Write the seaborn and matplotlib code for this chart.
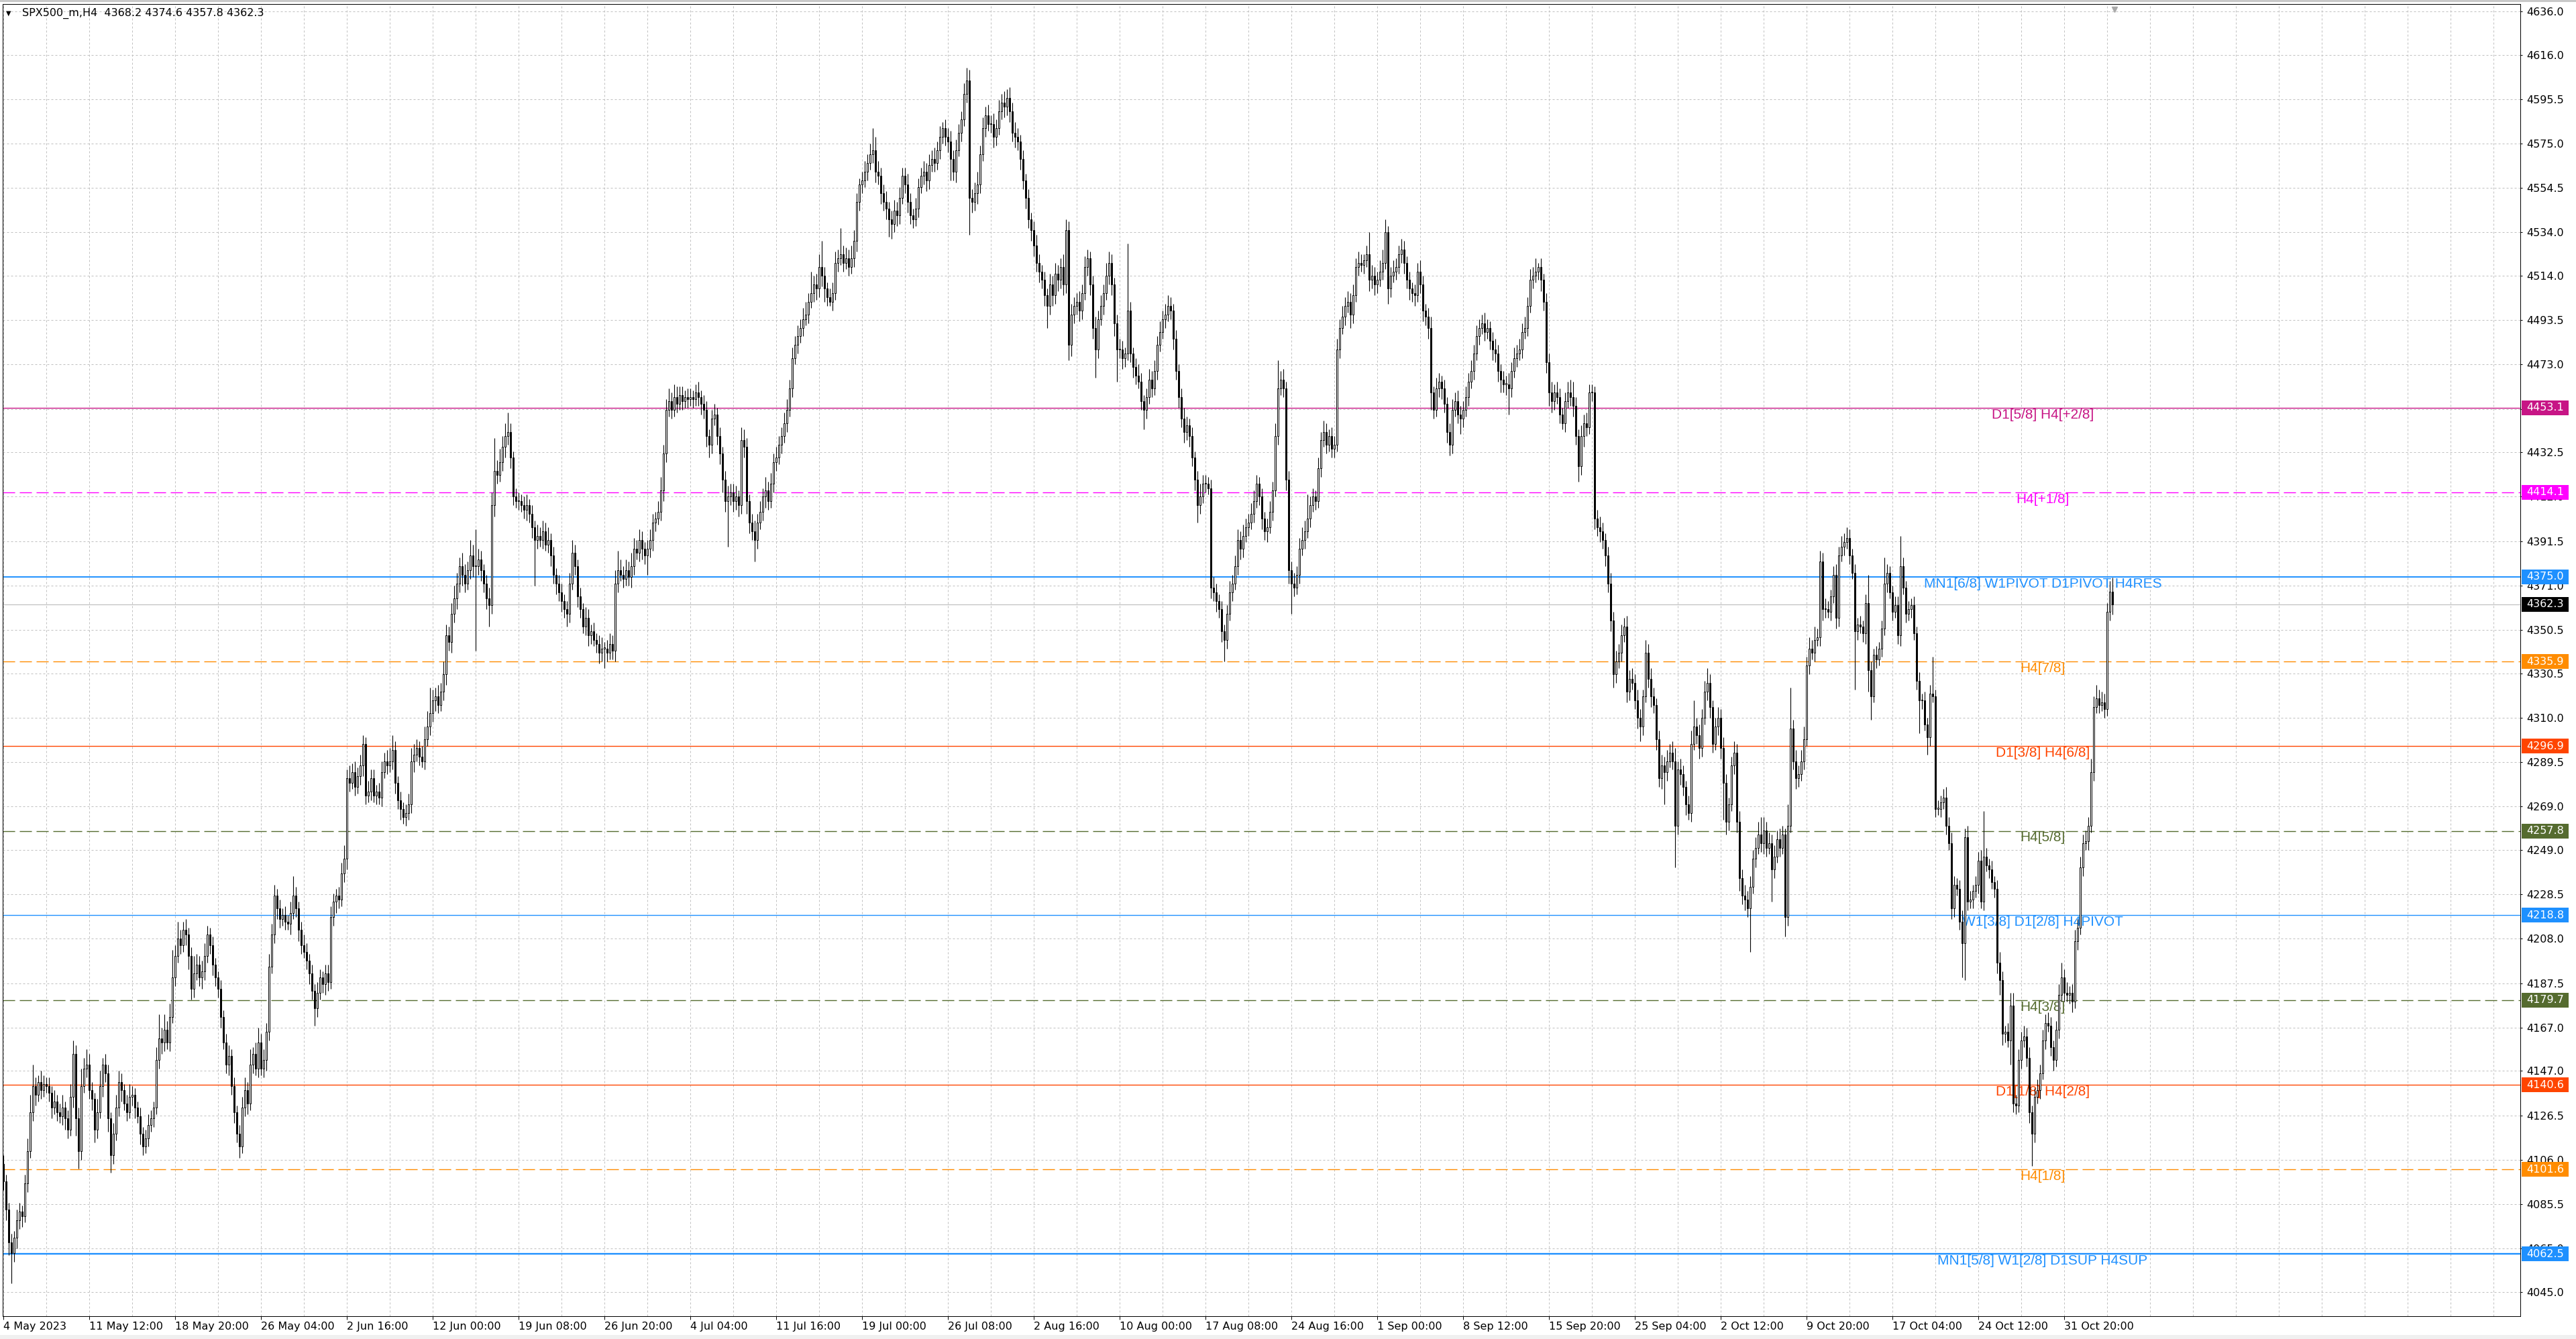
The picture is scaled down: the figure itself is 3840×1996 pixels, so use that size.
import numpy as np
import pandas as pd
import matplotlib
matplotlib.use("Agg")
import matplotlib.pyplot as plt
from matplotlib.patches import Rectangle
import seaborn as sns

# SPX500_m, H4 - cierres (una fila = 16 velas)
close_may = [
    4096, 4083, 4068, 4063, 4070, 4078, 4082, 4080, 4095, 4110, 4128, 4140, 4136, 4142, 4138, 4141,
    4140, 4137, 4130, 4133, 4128, 4126, 4130, 4125, 4120, 4135, 4155, 4125, 4110, 4140, 4148, 4150,
    4138, 4134, 4120, 4128, 4140, 4150, 4146, 4125, 4108, 4118, 4130, 4142, 4138, 4132, 4128, 4135,
    4136, 4130, 4126, 4118, 4112, 4116, 4122, 4125, 4130, 4152, 4162, 4160, 4166, 4160, 4172, 4190,
    4200, 4208, 4205, 4212, 4210, 4200, 4185, 4192, 4196, 4190, 4193, 4200, 4210, 4205, 4196, 4190,
    4185, 4172, 4160, 4150, 4154, 4140, 4128, 4118, 4112, 4130, 4138, 4132, 4150, 4155, 4148, 4160,
    4148, 4152, 4165, 4195, 4210, 4228, 4222, 4217, 4219, 4216, 4215, 4220, 4228, 4222, 4212, 4205,
]
close_jun = [
    4202, 4198, 4192, 4184, 4176, 4183, 4190, 4187, 4192, 4188, 4218, 4225, 4228, 4226, 4238, 4245,
    4282, 4280, 4285, 4278, 4283, 4288, 4298, 4274, 4276, 4282, 4274, 4276, 4273, 4285, 4290, 4288,
    4290, 4295, 4280, 4272, 4268, 4264, 4266, 4270, 4290, 4293, 4296, 4292, 4290, 4300, 4306, 4312,
    4318, 4320, 4316, 4322, 4330, 4348, 4345, 4358, 4365, 4372, 4380, 4376, 4372, 4378, 4385, 4380,
    4380, 4383, 4378, 4372, 4365, 4362, 4408, 4424, 4422, 4428, 4435, 4440, 4442, 4430, 4412, 4410,
    4410, 4408, 4406, 4408, 4404, 4398, 4392, 4394, 4392, 4396, 4390, 4392, 4385, 4376, 4372, 4368,
    4364, 4360, 4358, 4372, 4386, 4380, 4366, 4360, 4352, 4356, 4348, 4350, 4346, 4344, 4340, 4342,
    4342, 4340, 4344, 4341, 4372, 4378, 4376, 4374, 4378, 4375, 4380, 4388, 4386, 4392, 4388, 4385,
]
close_jul = [
    4388, 4392, 4400, 4402, 4405, 4415, 4432, 4452, 4456, 4452, 4458, 4455, 4459, 4456, 4458, 4457,
    4458, 4457, 4460, 4458, 4455, 4452, 4440, 4436, 4448, 4450, 4440, 4432, 4420, 4410, 4412, 4414,
    4410, 4412, 4408, 4438, 4435, 4410, 4400, 4396, 4392, 4400, 4405, 4412, 4415, 4410, 4418, 4428,
    4430, 4436, 4440, 4446, 4452, 4462, 4476, 4482, 4486, 4490, 4494, 4496, 4502, 4506, 4510, 4508,
    4518, 4514, 4508, 4504, 4502, 4506, 4520, 4522, 4524, 4520, 4522, 4518, 4522, 4530, 4548, 4556,
    4558, 4562, 4566, 4570, 4572, 4562, 4560, 4552, 4548, 4545, 4540, 4538, 4544, 4542, 4550, 4560,
    4556, 4548, 4542, 4540, 4545, 4555, 4560, 4562, 4558, 4565, 4568, 4566, 4572, 4578, 4582, 4578,
    4576, 4568, 4562, 4572, 4580, 4586, 4598, 4604, 4550, 4548, 4552, 4556, 4570, 4582, 4588, 4584,
    4584, 4578, 4582, 4590, 4594, 4592, 4596, 4590, 4580, 4578, 4576, 4568, 4558, 4550, 4540, 4535,
]
close_aug = [
    4528, 4520, 4516, 4512, 4505, 4500, 4510, 4505, 4515, 4512, 4518, 4510, 4535, 4482, 4496, 4500,
    4502, 4498, 4506, 4518, 4522, 4510, 4490, 4480, 4494, 4500, 4506, 4514, 4520, 4510, 4492, 4480,
    4480, 4476, 4478, 4498, 4478, 4472, 4468, 4465, 4456, 4452, 4458, 4466, 4462, 4470, 4482, 4488,
    4494, 4496, 4500, 4498, 4485, 4470, 4458, 4448, 4442, 4445, 4440, 4430, 4420, 4408, 4412, 4418,
    4418, 4416, 4370, 4368, 4364, 4360, 4350, 4346, 4358, 4368, 4372, 4380, 4392, 4388, 4394, 4398,
    4400, 4404, 4410, 4418, 4412, 4402, 4396, 4398, 4405, 4415, 4440, 4462, 4466, 4462, 4420, 4378,
    4372, 4370, 4376, 4388, 4392, 4396, 4402, 4408, 4412, 4410, 4425, 4438, 4442, 4436, 4440, 4434,
    4436, 4480, 4490, 4495, 4500, 4502, 4496, 4505, 4518, 4520, 4519, 4521, 4524, 4512, 4514, 4510,
]
close_sep = [
    4512, 4516, 4520, 4534, 4508, 4514, 4516, 4518, 4524, 4526, 4520, 4512, 4508, 4506, 4505, 4516,
    4510, 4498, 4495, 4490, 4460, 4452, 4462, 4465, 4462, 4455, 4442, 4436, 4452, 4456, 4450, 4448,
    4452, 4458, 4465, 4470, 4478, 4486, 4490, 4492, 4488, 4490, 4484, 4480, 4478, 4470, 4466, 4464,
    4464, 4462, 4470, 4476, 4478, 4480, 4488, 4490, 4500, 4512, 4514, 4516, 4518, 4512, 4502, 4474,
    4460, 4456, 4460, 4458, 4450, 4446, 4456, 4460, 4458, 4454, 4440, 4426, 4440, 4446, 4444, 4460,
    4460, 4402, 4398, 4396, 4392, 4385, 4372, 4355, 4330, 4336, 4340, 4348, 4352, 4322, 4328, 4326,
    4318, 4310, 4306, 4320, 4340, 4328, 4320, 4316, 4300, 4282, 4288, 4285, 4290, 4294, 4290, 4260,
    4286, 4284, 4278, 4270, 4266, 4298, 4306, 4302, 4296, 4310, 4322, 4326, 4315, 4298, 4306, 4310,
]
close_oct = [
    4296, 4280, 4262, 4270, 4288, 4294, 4262, 4236, 4228, 4226, 4222, 4232, 4245, 4250, 4256, 4252,
    4258, 4250, 4252, 4240, 4246, 4254, 4250, 4256, 4218, 4260, 4305, 4290, 4282, 4284, 4290, 4300,
    4334, 4342, 4340, 4346, 4347, 4382, 4360, 4360, 4359, 4366, 4376, 4356, 4385, 4389, 4391, 4393,
    4385, 4377, 4350, 4353, 4352, 4349, 4363, 4332, 4320, 4339, 4337, 4342, 4351, 4372, 4377, 4368,
    4359, 4362, 4348, 4380, 4370, 4358, 4360, 4362, 4349, 4327, 4318, 4318, 4307, 4301, 4321, 4320,
    4268, 4268, 4271, 4273, 4260, 4252, 4222, 4233, 4231, 4216, 4206, 4255, 4225, 4226, 4230, 4233,
    4244, 4225, 4246, 4242, 4240, 4234, 4231, 4197, 4189, 4164, 4165, 4161, 4177, 4132, 4131, 4152,
    4161, 4163, 4153, 4128, 4118, 4135, 4138, 4146, 4161, 4169, 4168, 4158, 4152, 4166, 4182, 4190,
    4183, 4182, 4183, 4179, 4207, 4213, 4241, 4252, 4253, 4260, 4285, 4315, 4319, 4316, 4317, 4314,
    4359, 4368.2, 4362.3,
]

# mecha superior (puntos sobre el cuerpo)
up_may = [
    4, 3, 3, 4, 3, 5, 4, 3, 4, 6, 8, 10, 4, 3, 5, 4,
    3, 4, 3, 5, 3, 4, 6, 3, 4, 6, 6, 4, 5, 8, 5, 7,
    5, 4, 3, 6, 7, 3, 5, 4, 3, 5, 6, 5, 4, 3, 4, 6,
    4, 3, 3, 4, 3, 4, 5, 4, 3, 6, 11, 5, 7, 4, 6, 13,
    5, 8, 4, 4, 5, 3, 4, 8, 5, 4, 5, 6, 4, 3, 4, 3,
    3, 4, 3, 4, 5, 3, 4, 3, 4, 5, 6, 4, 7, 3, 5, 7,
    4, 5, 4, 6, 5, 5, 3, 4, 3, 4, 3, 5, 9, 4, 3, 4,
]
up_jun = [
    5, 4, 3, 4, 3, 5, 4, 3, 4, 4, 5, 4, 3, 4, 5, 6,
    4, 6, 4, 5, 4, 5, 4, 3, 5, 4, 4, 3, 4, 5, 4, 5,
    6, 7, 4, 3, 4, 3, 4, 5, 6, 5, 4, 3, 5, 6, 7, 12,
    5, 4, 5, 4, 6, 5, 4, 5, 6, 5, 4, 6, 5, 4, 7, 5,
    17, 5, 4, 3, 4, 5, 6, 15, 5, 6, 5, 6, 9, 4, 3, 4,
    4, 3, 4, 5, 3, 4, 3, 5, 4, 5, 4, 6, 3, 4, 3, 4,
    4, 3, 4, 5, 6, 4, 3, 4, 3, 5, 4, 3, 4, 3, 4, 5,
    3, 4, 5, 4, 6, 9, 5, 4, 5, 4, 6, 5, 4, 5, 4, 3,
]
up_jul = [
    4, 5, 4, 3, 5, 6, 4, 5, 6, 4, 6, 5, 4, 4, 3, 4,
    4, 3, 4, 5, 3, 4, 4, 3, 4, 5, 3, 4, 3, 4, 5, 4,
    4, 5, 3, 6, 5, 4, 3, 4, 5, 4, 5, 4, 6, 4, 5, 4,
    5, 4, 4, 5, 5, 4, 5, 4, 5, 4, 5, 6, 4, 10, 4, 5,
    6, 12, 4, 3, 4, 5, 5, 4, 12, 4, 5, 4, 6, 5, 4, 3,
    4, 5, 4, 5, 10, 6, 5, 4, 4, 5, 3, 4, 5, 4, 5, 4,
    4, 5, 4, 3, 5, 4, 4, 5, 4, 5, 4, 5, 4, 5, 3, 4,
    4, 5, 4, 5, 4, 4, 5, 6, 5, 4, 5, 6, 4, 5, 4, 5,
    4, 5, 4, 5, 4, 5, 4, 5, 4, 5, 4, 3, 4, 3, 4, 3,
]
up_aug = [
    4, 5, 4, 3, 4, 3, 5, 4, 5, 4, 4, 6, 5, 4, 5, 4,
    4, 5, 4, 5, 4, 3, 4, 5, 4, 5, 4, 6, 5, 4, 3, 4,
    5, 4, 3, 31, 4, 3, 4, 5, 4, 3, 4, 5, 4, 5, 4, 5,
    4, 5, 5, 4, 3, 4, 3, 4, 5, 4, 3, 4, 3, 4, 6, 4,
    4, 3, 4, 5, 4, 3, 4, 3, 4, 5, 4, 5, 5, 4, 5, 4,
    4, 5, 5, 4, 3, 4, 3, 4, 5, 4, 6, 13, 4, 5, 3, 4,
    4, 5, 4, 5, 6, 5, 11, 4, 4, 3, 5, 4, 5, 4, 3, 4,
    4, 5, 4, 5, 4, 5, 4, 5, 4, 5, 4, 3, 4, 10, 5, 4,
]
up_sep = [
    4, 5, 6, 6, 3, 4, 5, 4, 4, 5, 4, 3, 4, 3, 4, 4,
    5, 4, 3, 4, 5, 3, 5, 4, 3, 4, 3, 4, 5, 4, 5, 4,
    4, 5, 4, 5, 4, 5, 4, 4, 5, 4, 3, 4, 5, 4, 3, 4,
    4, 5, 4, 5, 4, 5, 4, 5, 4, 5, 4, 6, 2, 4, 3, 4,
    4, 5, 4, 5, 4, 3, 4, 5, 6, 7, 4, 3, 5, 4, 5, 4,
    4, 3, 4, 5, 4, 3, 4, 5, 4, 5, 4, 5, 4, 5, 4, 5,
    4, 5, 4, 3, 6, 4, 5, 4, 3, 4, 5, 4, 5, 4, 5, 6,
    4, 5, 4, 3, 4, 6, 12, 4, 5, 4, 5, 7, 4, 3, 4, 5,
]
up_oct = [
    4, 5, 4, 3, 4, 5, 4, 5, 4, 5, 4, 5, 4, 5, 6, 8,
    6, 4, 5, 4, 5, 4, 5, 4, 3, 10, 19, 4, 5, 4, 5, 6,
    4, 5, 4, 6, 4, 5, 4, 5, 4, 3, 4, 5, 4, 5, 4, 5,
    4, 3, 4, 3, 4, 3, 4, 13, 4, 3, 4, 3, 4, 12, 4, 3,
    3, 4, 4, 14, 4, 3, 4, 3, 4, 3, 4, 3, 4, 3, 4, 17,
    3, 4, 3, 4, 5, 4, 5, 4, 3, 4, 5, 4, 5, 4, 3, 4,
    4, 5, 21, 4, 3, 4, 3, 4, 5, 4, 3, 4, 6, 6, 4, 5,
    4, 5, 4, 5, 3, 4, 5, 4, 5, 4, 5, 4, 3, 4, 5, 7,
    4, 5, 3, 4, 5, 4, 5, 4, 5, 4, 6, 5, 6, 4, 5, 4,
    4, 5, 6.4,
]

# mecha inferior (puntos bajo el cuerpo)
dn_may = [
    4, 5, 6, 14, 4, 5, 4, 5, 3, 4, 3, 4, 5, 3, 4, 3,
    3, 4, 5, 3, 4, 3, 4, 5, 4, 3, 5, 8, 8, 4, 3, 4,
    4, 5, 6, 4, 3, 5, 4, 6, 8, 4, 3, 4, 5, 3, 4, 3,
    4, 5, 3, 5, 4, 3, 4, 3, 4, 3, 4, 5, 4, 3, 4, 3,
    4, 3, 4, 3, 5, 6, 5, 4, 3, 4, 5, 4, 3, 4, 5, 4,
    4, 5, 3, 4, 5, 4, 5, 4, 5, 3, 4, 5, 3, 4, 3, 4,
    3, 4, 5, 4, 3, 4, 5, 4, 3, 4, 3, 5, 3, 4, 5, 4,
]
dn_jun = [
    3, 4, 5, 4, 8, 4, 3, 4, 5, 4, 3, 4, 5, 4, 3, 4,
    5, 4, 3, 4, 3, 4, 5, 4, 3, 4, 3, 4, 3, 4, 3, 4,
    3, 4, 5, 4, 5, 3, 4, 3, 4, 5, 3, 4, 3, 4, 3, 4,
    4, 5, 4, 3, 4, 5, 4, 5, 4, 5, 4, 5, 4, 3, 4, 5,
    39, 4, 5, 4, 5, 10, 4, 5, 4, 3, 4, 5, 4, 5, 4, 3,
    4, 3, 4, 5, 4, 5, 21, 4, 3, 4, 3, 4, 5, 4, 5, 4,
    5, 4, 6, 4, 3, 4, 5, 4, 3, 4, 5, 4, 3, 4, 5, 4,
    9, 4, 3, 4, 5, 4, 3, 4, 3, 4, 5, 4, 3, 4, 5, 4,
]
dn_jul = [
    9, 4, 5, 4, 3, 4, 5, 4, 3, 4, 3, 4, 3, 4, 3, 4,
    3, 4, 3, 4, 5, 4, 5, 6, 4, 3, 4, 5, 6, 5, 21, 4,
    5, 4, 5, 4, 5, 6, 5, 4, 10, 4, 3, 4, 5, 4, 3, 4,
    4, 3, 4, 3, 4, 3, 4, 3, 4, 3, 4, 3, 4, 3, 4, 5,
    4, 5, 6, 4, 2, 4, 3, 4, 3, 4, 3, 4, 3, 4, 5, 4,
    4, 3, 4, 3, 4, 5, 4, 5, 4, 5, 8, 7, 4, 5, 4, 3,
    4, 5, 4, 4, 3, 4, 3, 4, 5, 4, 3, 4, 3, 4, 3, 4,
    5, 10, 4, 5, 3, 4, 3, 4, 17, 5, 4, 5, 4, 3, 4, 3,
    4, 5, 4, 3, 4, 5, 4, 5, 4, 5, 4, 5, 4, 5, 4, 5,
]
dn_aug = [
    5, 4, 5, 4, 5, 10, 4, 5, 4, 5, 4, 5, 4, 7, 5, 4,
    4, 5, 4, 3, 4, 5, 5, 13, 4, 3, 4, 3, 4, 5, 6, 15,
    4, 5, 4, 3, 4, 5, 4, 3, 4, 9, 4, 3, 4, 3, 4, 3,
    3, 4, 3, 4, 5, 4, 5, 4, 5, 4, 5, 4, 5, 8, 4, 3,
    4, 3, 5, 4, 5, 4, 5, 10, 4, 3, 4, 3, 4, 5, 4, 3,
    4, 3, 4, 3, 4, 5, 4, 5, 3, 4, 3, 4, 3, 4, 5, 6,
    14, 4, 3, 4, 3, 4, 3, 4, 3, 4, 3, 4, 3, 4, 3, 4,
    4, 3, 4, 3, 4, 3, 6, 4, 3, 4, 3, 4, 3, 5, 4, 5,
]
dn_sep = [
    4, 3, 4, 3, 7, 4, 3, 4, 3, 4, 5, 4, 5, 4, 5, 3,
    4, 5, 4, 5, 8, 4, 3, 4, 5, 4, 5, 5, 4, 3, 4, 7,
    4, 3, 4, 3, 4, 3, 4, 3, 4, 3, 4, 5, 4, 5, 6, 4,
    5, 12, 4, 3, 4, 3, 4, 3, 4, 3, 4, 3, 4, 5, 4, 5,
    6, 5, 4, 3, 4, 3, 4, 3, 4, 5, 4, 7, 4, 5, 4, 3,
    4, 5, 4, 5, 4, 5, 4, 5, 6, 4, 3, 4, 3, 5, 4, 3,
    4, 5, 7, 4, 3, 4, 5, 4, 5, 4, 5, 15, 4, 3, 4, 19,
    4, 5, 4, 5, 3, 4, 3, 4, 5, 4, 3, 4, 5, 4, 3, 4,
]
dn_oct = [
    5, 17, 6, 4, 3, 4, 5, 6, 4, 5, 4, 20, 3, 4, 3, 4,
    5, 4, 3, 15, 4, 3, 4, 3, 9, 4, 3, 4, 5, 4, 3, 4,
    3, 4, 3, 4, 3, 4, 5, 4, 3, 4, 3, 5, 4, 3, 4, 3,
    4, 3, 27, 4, 3, 4, 5, 10, 11, 3, 4, 3, 4, 3, 4, 3,
    4, 3, 4, 5, 3, 4, 3, 4, 3, 4, 15, 4, 3, 8, 4, 3,
    4, 3, 4, 3, 4, 3, 5, 4, 3, 4, 16, 17, 4, 3, 4, 3,
    4, 3, 4, 3, 4, 3, 4, 5, 7, 5, 4, 3, 11, 4, 4, 3,
    4, 3, 4, 5, 15, 4, 3, 4, 3, 4, 3, 4, 5, 3, 4, 3,
    4, 3, 4, 5, 3, 4, 3, 4, 3, 4, 3, 4, 3, 4, 3, 4,
    3, 4, 4.5,
]

first_open = 4104.0

# niveles Murrey / pivotes dibujados en el grafico
level_values = [4453.1, 4414.1, 4375.0, 4335.9, 4296.9, 4257.8, 4218.8, 4179.7, 4140.6, 4101.6, 4062.5]
level_names = ["D1[5/8] H4[+2/8]", "H4[+1/8]", "MN1[6/8] W1PIVOT D1PIVOT H4RES", "H4[7/8]",
               "D1[3/8] H4[6/8]", "H4[5/8]", "W1[3/8] D1[2/8] H4PIVOT", "H4[3/8]",
               "D1[1/8] H4[2/8]", "H4[1/8]", "MN1[5/8] W1[2/8] D1SUP H4SUP"]

y_ticks = [4636.0, 4616.0, 4595.5, 4575.0, 4554.5, 4534.0, 4514.0, 4493.5, 4473.0, 4452.5,
           4432.5, 4412.0, 4391.5, 4371.0, 4350.5, 4330.5, 4310.0, 4289.5, 4269.0, 4249.0,
           4228.5, 4208.0, 4187.5, 4167.0, 4147.0, 4126.5, 4106.0, 4085.5, 4065.0, 4045.0]
x_labels = ["4 May 2023", "11 May 12:00", "18 May 20:00", "26 May 04:00", "2 Jun 16:00",
            "12 Jun 00:00", "19 Jun 08:00", "26 Jun 20:00", "4 Jul 04:00", "11 Jul 16:00",
            "19 Jul 00:00", "26 Jul 08:00", "2 Aug 16:00", "10 Aug 00:00", "17 Aug 08:00",
            "24 Aug 16:00", "1 Sep 00:00", "8 Sep 12:00", "15 Sep 20:00", "25 Sep 04:00",
            "2 Oct 12:00", "9 Oct 20:00", "17 Oct 04:00", "24 Oct 12:00", "31 Oct 20:00"]

# estilos de cada nivel (color, trazo, grosor)
level_colors = ['#C71585', '#FF00FF', '#1E90FF', '#FF8C00', '#FF4500', '#556B2F',
                '#1E90FF', '#556B2F', '#FF4500', '#FF8C00', '#1E90FF']
level_dashed = [False, True, False, True, False, True, False, True, False, True, False]
level_lw = [1.0, 1.0, 1.4, 1.0, 1.0, 1.0, 1.0, 1.0, 1.0, 1.0, 1.7]

sns.set_theme(style="white")
plt.rcParams['font.family'] = ['DejaVu Sans']

close = np.array(close_may + close_jun + close_jul + close_aug + close_sep + close_oct, dtype=float)
wick_up = np.array(up_may + up_jun + up_jul + up_aug + up_sep + up_oct, dtype=float)
wick_dn = np.array(dn_may + dn_jun + dn_jul + dn_aug + dn_sep + dn_oct, dtype=float)
print(len(close), len(wick_up), len(wick_dn))

df = pd.DataFrame({'close': close})
df['open'] = np.concatenate([[first_open], close[:-1]])  # apertura = cierre anterior
df['high'] = df[['open', 'close']].max(axis=1) + wick_up
df['low'] = df[['open', 'close']].min(axis=1) - wick_dn
df['bar'] = np.arange(len(df))

W, H = 3840, 1996
fig = plt.figure(figsize=(W / 100, H / 100), dpi=100)
fig.patch.set_facecolor('white')
ax = fig.add_axes([4 / W, 1 - 1962 / H, (3757 - 4) / W, (1962 - 6) / H])
ax.set_facecolor('white')
ax.set_xlim(-0.25, 938)
ax.set_ylim(4033.8, 4639.4)

# rejilla punteada
for v in y_ticks:
    ax.axhline(v, color='#C0C0C0', lw=0.72, ls=(0, (3, 3)), zorder=0)
for b in range(0, 939, 16):
    ax.axvline(b, color='#C0C0C0', lw=0.72, ls=(0, (3, 3)), zorder=0)

# niveles
for val, name, col, dashed, lw in zip(level_values, level_names, level_colors, level_dashed, level_lw):
    ax.axhline(val, color=col, lw=lw, ls=(0, (13, 5)) if dashed else '-', zorder=1)
    ax.text(760, val - 0.3, name, color=col, ha='center', va='top', fontsize=15,
            family='Liberation Sans', zorder=2)

last = df.iloc[-1]
ax.axhline(last['close'], color='#C0C0C0', lw=0.9, zorder=1)

# velas
ax.vlines(df['bar'], df['low'], df['high'], color='black', lw=0.8, zorder=3)
bull = df[df['close'] >= df['open']]
bear = df[df['close'] < df['open']]
ax.bar(bull['bar'], np.maximum(bull['close'] - bull['open'], 0.4), bottom=bull['open'], width=0.6,
       color='white', edgecolor='black', linewidth=0.7, zorder=4)
ax.bar(bear['bar'], bear['open'] - bear['close'], bottom=bear['close'], width=0.6,
       color='black', edgecolor='black', linewidth=0.7, zorder=4)

# ejes
ax.set_yticks(y_ticks)
ax.set_yticklabels([f"{v:.1f}" for v in y_ticks])
ax.tick_params(axis='y', left=False, labelleft=False, right=True, labelright=True,
               direction='out', length=2.5, width=0.72, pad=4.3, labelsize=11.5,
               colors='black')
ax.set_xticks(range(0, 32 * len(x_labels), 32))
ax.set_xticklabels(x_labels, ha='left')
ax.tick_params(axis='x', bottom=True, labelbottom=True, direction='out', length=3.5,
               width=0.72, pad=2, labelsize=11.5, colors='black')
for s in ax.spines.values():
    s.set_visible(True)
    s.set_color('black')
    s.set_linewidth(0.72)
ax.grid(False)

# etiquetas de precio a la derecha
px_w = 3753.0
box_x0 = (3759 - 4) / px_w
box_w = 70 / px_w
box_h = 11 / 3.23
for val, col in list(zip(level_values, level_colors)) + [(last['close'], 'black')]:
    ax.add_patch(Rectangle((box_x0, val - box_h), box_w, 2 * box_h, transform=ax.get_yaxis_transform(),
                           facecolor=col, edgecolor='none', clip_on=False, zorder=5))
    ax.text((3766 - 4) / px_w, val, f"{val:.1f}", transform=ax.get_yaxis_transform(),
            color='white', fontsize=11.5, ha='left', va='center', clip_on=False, zorder=6)

# marcador de desplazamiento del grafico
ax.plot([len(df) - 0.25], [0.996], transform=ax.get_xaxis_transform(), marker='v',
        ms=6, color='#A9A9A9', clip_on=False, zorder=6)

# cabecera
fig.text(9 / W, 1 - 20 / H, '\u25BC', fontsize=7, va='center', ha='left', color='black')
fig.text(33 / W, 1 - 20 / H,
         f"SPX500_m,H4  {last['open']:.1f} {last['high']:.1f} {last['low']:.1f} {last['close']:.1f}",
         fontsize=11.5, va='center', ha='left', color='black')

fig.add_artist(Rectangle((0, 1 - 3 / H), 1, 3 / H, transform=fig.transFigure,
                         facecolor='#C8C8C8', edgecolor='none'))
fig.add_artist(Rectangle((0, 0), 1, 6 / H, transform=fig.transFigure,
                         facecolor='#F0F0F0', edgecolor='none'))

fig.savefig('out.png', dpi=100)
